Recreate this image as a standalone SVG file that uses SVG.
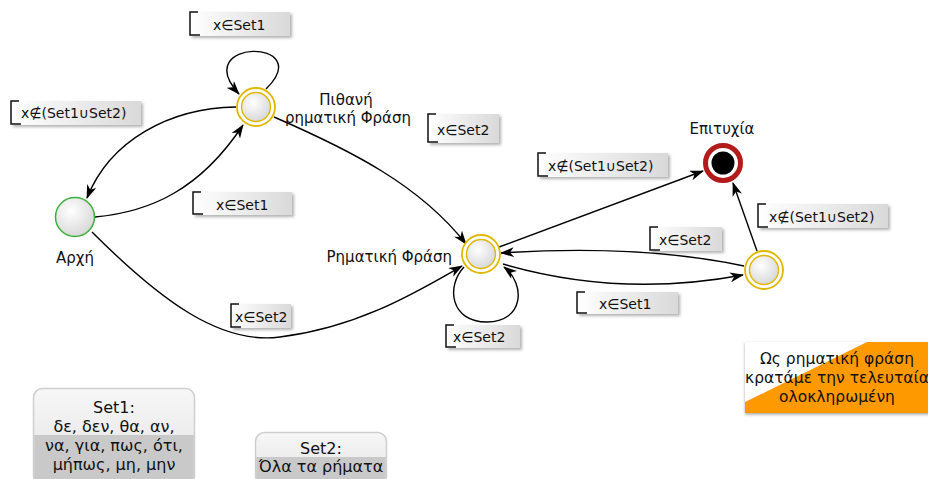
<svg xmlns="http://www.w3.org/2000/svg" width="928" height="479" viewBox="0 0 928 479">
  <defs>
    <linearGradient id="guardFill" x1="0" y1="0" x2="1" y2="0">
      <stop offset="0" stop-color="#ffffff"/>
      <stop offset="1" stop-color="#d9d9d9"/>
    </linearGradient>
    <radialGradient id="nodeFill" cx="0.4" cy="0.35" r="0.7">
      <stop offset="0" stop-color="#ffffff"/>
      <stop offset="1" stop-color="#d6d6d6"/>
    </radialGradient>
    <linearGradient id="setTop" x1="0" y1="0" x2="0" y2="1">
      <stop offset="0" stop-color="#f7f7f7"/>
      <stop offset="1" stop-color="#e2e2e2"/>
    </linearGradient>
    <filter id="shadow" x="-10%" y="-20%" width="130%" height="160%">
      <feDropShadow dx="2" dy="2" stdDeviation="1.8" flood-color="#000" flood-opacity="0.3"/>
    </filter>
    <filter id="softShadow" x="-10%" y="-20%" width="130%" height="160%">
      <feDropShadow dx="0" dy="1.5" stdDeviation="1.5" flood-color="#000" flood-opacity="0.35"/>
    </filter>
    <marker id="arrow" viewBox="0 0 14 10" refX="13" refY="5" markerWidth="14" markerHeight="10" markerUnits="userSpaceOnUse" orient="auto">
      <path d="M0,0 L14,5 L0,10 L4,5 z" fill="#000"/>
    </marker>
    <style>
      text { font-family: "DejaVu Sans", "Liberation Sans", sans-serif; font-size: 14px; fill: #111; }
      .edge { fill: none; stroke: #000; stroke-width: 1.4; marker-end: url(#arrow); }
      .guard rect { fill: url(#guardFill); filter: url(#shadow); }
      .guard path { fill: none; stroke: #111; stroke-width: 1.5; }
      .ring { fill: #fff; stroke: #e0b800; stroke-width: 1.8; }
      .core { fill: url(#nodeFill); stroke: #e0b800; stroke-width: 1.4; }
      .state-label { font-size: 15px; }
      .mid { text-anchor: middle; }
      .set text { text-anchor: middle; font-size: 16px; }
      .note text { text-anchor: middle; font-size: 15.5px; }
    </style>
  </defs>

  <!-- transitions -->
  <g id="connectors">
    <path class="edge" d="M95,217 C150,212 200,190 243,125"/>
    <path class="edge" d="M236,107 C170,108 110,140 87,198"/>
    <path class="edge" d="M266,89 C318,38 188,38 239,94"/>
    <path class="edge" d="M274,117 C350,150 420,185 466,244"/>
    <path class="edge" d="M92,232 C160,300 220,345 280,337 C360,327 420,290 462,266"/>
    <path class="edge" d="M464,267 C446,286 450,322 487,322 C524,322 526,284 504,267"/>
    <path class="edge" d="M499,247 L703,171"/>
    <path class="edge" d="M744,266 Q640,244 501,253"/>
    <path class="edge" d="M503,264 Q620,298 743,275"/>
    <path class="edge" d="M757,251 L733,183"/>
  </g>

  <!-- guard labels -->
  <g id="guards">
    <g class="guard" transform="translate(190,12)"><rect width="100" height="24"/><path d="M8,0 H0 V23 H10"/><text x="23" y="18">x∈Set1</text></g>
    <g class="guard" transform="translate(11,101)"><rect width="130" height="24"/><path d="M8,0 H0 V23 H10"/><text x="10" y="17">x∉(Set1∪Set2)</text></g>
    <g class="guard" transform="translate(428,114)"><rect width="71" height="29"/><path d="M8,0 H0 V28 H10"/><text x="9" y="21">x∈Set2</text></g>
    <g class="guard" transform="translate(538,153)"><rect width="130" height="24"/><path d="M8,0 H0 V23 H10"/><text x="10" y="18">x∉(Set1∪Set2)</text></g>
    <g class="guard" transform="translate(193,192)"><rect width="99" height="23"/><path d="M8,0 H0 V22 H10"/><text x="23" y="18">x∈Set1</text></g>
    <g class="guard" transform="translate(231,304)"><rect width="60" height="24"/><path d="M8,0 H0 V23 H10"/><text x="4" y="18">x∈Set2</text></g>
    <g class="guard" transform="translate(446,325)"><rect width="74" height="23"/><path d="M8,0 H0 V22 H10"/><text x="7" y="17">x∈Set2</text></g>
    <g class="guard" transform="translate(577,292)"><rect width="101" height="22"/><path d="M8,0 H0 V21 H10"/><text x="22" y="17">x∈Set1</text></g>
    <g class="guard" transform="translate(650,227)"><rect width="72" height="24"/><path d="M8,0 H0 V23 H10"/><text x="9" y="18">x∈Set2</text></g>
    <g class="guard" transform="translate(758,204)"><rect width="130" height="24"/><path d="M8,0 H0 V23 H10"/><text x="11" y="18">x∉(Set1∪Set2)</text></g>
  </g>

  <!-- states -->
  <g id="start">
    <circle cx="75" cy="217" r="19.5" fill="url(#nodeFill)" stroke="#3cb03c" stroke-width="1.5"/>
    <text class="mid state-label" x="75" y="263">Αρχή</text>
  </g>

  <g id="possible-phrase">
    <circle class="ring" cx="256" cy="107" r="19"/>
    <circle class="core" cx="256" cy="107" r="14.5"/>
    <text class="mid state-label" x="346" y="105">Πιθανή</text>
    <text class="mid state-label" x="348" y="123">ρηματική Φράση</text>
  </g>

  <g id="verb-phrase">
    <circle class="ring" cx="481" cy="254" r="19"/>
    <circle class="core" cx="481" cy="254" r="14.5"/>
    <text class="state-label" x="452" y="262" text-anchor="end">Ρηματική Φράση</text>
  </g>

  <g id="pending">
    <circle class="ring" cx="764" cy="270" r="19"/>
    <circle class="core" cx="764" cy="270" r="14.5"/>
  </g>

  <g id="success">
    <circle cx="723" cy="163" r="17.5" fill="#fff" stroke="#b31b1b" stroke-width="5"/>
    <circle cx="723" cy="163" r="11.5" fill="#000"/>
    <text class="mid state-label" x="722" y="134">Επιτυχία</text>
  </g>

  <!-- set definitions -->
  <g id="set1" class="set">
    <rect x="33.5" y="388.5" width="161" height="96" rx="9" fill="url(#setTop)" stroke="#cfcfcf" stroke-width="1.5"/>
    <path d="M34.3,435 H193.7 V476 Q193.7,484 185.7,484 H42.3 Q34.3,484 34.3,476 Z" fill="#c9c9c9"/>
    <text x="114" y="413">Set1:</text>
    <text x="114" y="432">δε, δεν, θα, αν,</text>
    <text x="114" y="451">να, για, πως, ότι,</text>
    <text x="114" y="470">μήπως, μη, μην</text>
  </g>

  <g id="set2" class="set">
    <rect x="255.5" y="432.5" width="131" height="52" rx="9" fill="url(#setTop)" stroke="#cfcfcf" stroke-width="1.5"/>
    <path d="M256.3,457 H385.7 V476 Q385.7,484 377.7,484 H264.3 Q256.3,484 256.3,476 Z" fill="#c9c9c9"/>
    <text x="321" y="454">Set2:</text>
    <text x="321" y="472">Όλα τα ρήματα</text>
  </g>

  <!-- note -->
  <g id="note" class="note">
    <rect x="745" y="342" width="190" height="71" fill="#ff9900" filter="url(#softShadow)"/>
    <path d="M745,342 H867 L745,402 Z" fill="#ffffff"/>
    <text x="837" y="364">Ως ρηματική φράση</text>
    <text x="837" y="383">κρατάμε την τελευταία</text>
    <text x="837" y="402">ολοκληρωμένη</text>
  </g>
</svg>
